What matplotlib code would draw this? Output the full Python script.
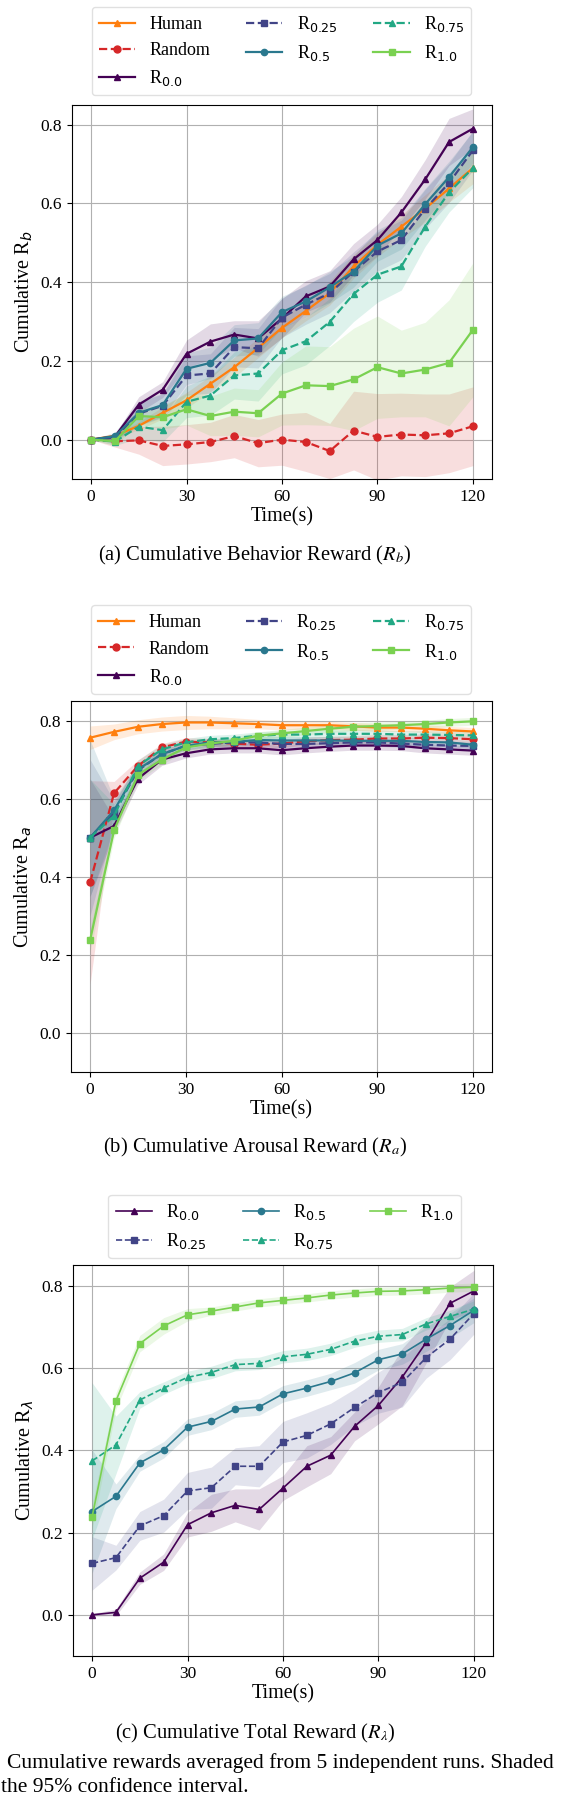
import numpy as np
import matplotlib
matplotlib.use('Agg')
import matplotlib.pyplot as plt

plt.rcParams['font.family'] = ['Liberation Serif', 'DejaVu Serif']
plt.rcParams['mathtext.fontset'] = 'dejavusans'

time_s = [0, 7.5, 15, 22.5, 30, 37.5, 45, 52.5, 60, 67.5, 75, 82.5, 90, 97.5, 105, 112.5, 120]
series_names = ['Human', 'Random', 'R$_{0.0}$', 'R$_{0.25}$', 'R$_{0.5}$', 'R$_{0.75}$', 'R$_{1.0}$']

# (a) behaviour reward: means and 95% CI half widths
human_b = [0.0, 0.01, 0.035, 0.068, 0.10, 0.142, 0.184, 0.233, 0.284, 0.327, 0.372, 0.44, 0.495, 0.541, 0.587, 0.638, 0.69]
random_b = [0.0, -0.004, -0.002, -0.016, -0.012, -0.006, 0.009, -0.009, 0.0, -0.006, -0.029, 0.023, 0.007, 0.013, 0.011, 0.016, 0.034]
r00_b = [0.0, 0.008, 0.089, 0.127, 0.218, 0.249, 0.267, 0.257, 0.308, 0.364, 0.389, 0.458, 0.507, 0.577, 0.661, 0.756, 0.79]
r025_b = [0.0, 0.005, 0.066, 0.086, 0.163, 0.168, 0.235, 0.232, 0.31, 0.343, 0.372, 0.427, 0.478, 0.507, 0.586, 0.652, 0.735]
r05_b = [0.0, 0.009, 0.068, 0.088, 0.18, 0.195, 0.252, 0.257, 0.324, 0.351, 0.387, 0.427, 0.493, 0.524, 0.598, 0.667, 0.743]
r075_b = [0.0, -0.005, 0.033, 0.024, 0.096, 0.112, 0.163, 0.168, 0.227, 0.25, 0.299, 0.37, 0.419, 0.44, 0.541, 0.628, 0.69]
r10_b = [0.0, -0.004, 0.06, 0.057, 0.077, 0.06, 0.071, 0.067, 0.117, 0.138, 0.136, 0.153, 0.184, 0.168, 0.178, 0.195, 0.279]

human_b_ci = [0.0, 0.005, 0.01, 0.015, 0.02, 0.02, 0.025, 0.025, 0.025, 0.025, 0.03, 0.03, 0.03, 0.03, 0.035, 0.035, 0.04]
random_b_ci = [0.0, 0.015, 0.035, 0.05, 0.05, 0.05, 0.055, 0.06, 0.065, 0.075, 0.07, 0.1, 0.11, 0.105, 0.105, 0.1, 0.1]
r00_b_ci = [0.0, 0.005, 0.02, 0.02, 0.035, 0.045, 0.035, 0.045, 0.05, 0.04, 0.04, 0.04, 0.04, 0.04, 0.05, 0.06, 0.05]
r025_b_ci = [0.0, 0.01, 0.03, 0.03, 0.05, 0.05, 0.05, 0.05, 0.05, 0.05, 0.05, 0.05, 0.05, 0.05, 0.05, 0.05, 0.05]
r05_b_ci = [0.0, 0.01, 0.03, 0.03, 0.04, 0.04, 0.04, 0.04, 0.04, 0.04, 0.04, 0.04, 0.04, 0.04, 0.04, 0.04, 0.04]
r075_b_ci = [0.0, 0.01, 0.03, 0.03, 0.04, 0.05, 0.06, 0.07, 0.06, 0.06, 0.06, 0.07, 0.07, 0.06, 0.05, 0.05, 0.05]
r10_b_ci = [0.0, 0.01, 0.02, 0.03, 0.04, 0.05, 0.06, 0.06, 0.08, 0.1, 0.1, 0.13, 0.13, 0.11, 0.12, 0.16, 0.17]

# (b) arousal reward
human_a = [0.756, 0.771, 0.784, 0.791, 0.795, 0.795, 0.793, 0.791, 0.788, 0.788, 0.788, 0.785, 0.782, 0.782, 0.779, 0.775, 0.772]
random_a = [0.386, 0.614, 0.684, 0.731, 0.746, 0.744, 0.741, 0.738, 0.741, 0.747, 0.75, 0.751, 0.754, 0.754, 0.756, 0.755, 0.752]
r00_a = [0.5, 0.53, 0.651, 0.7, 0.716, 0.726, 0.729, 0.729, 0.724, 0.729, 0.733, 0.736, 0.736, 0.735, 0.729, 0.726, 0.723]
r025_a = [0.5, 0.564, 0.673, 0.714, 0.735, 0.74, 0.744, 0.744, 0.74, 0.74, 0.742, 0.744, 0.744, 0.741, 0.738, 0.736, 0.735]
r05_a = [0.5, 0.57, 0.675, 0.714, 0.735, 0.744, 0.745, 0.75, 0.749, 0.749, 0.749, 0.748, 0.748, 0.748, 0.745, 0.744, 0.738]
r075_a = [0.5, 0.556, 0.684, 0.726, 0.744, 0.752, 0.755, 0.761, 0.764, 0.764, 0.766, 0.766, 0.766, 0.764, 0.764, 0.763, 0.762]
r10_a = [0.238, 0.519, 0.661, 0.70, 0.731, 0.741, 0.748, 0.761, 0.767, 0.773, 0.779, 0.784, 0.786, 0.788, 0.791, 0.795, 0.798]

human_a_ci = [0.03, 0.02, 0.018, 0.018, 0.018, 0.016, 0.014, 0.012, 0.012, 0.01, 0.01, 0.01, 0.01, 0.01, 0.01, 0.01, 0.01]
random_a_ci = [0.26, 0.03, 0.015, 0.01, 0.01, 0.01, 0.01, 0.01, 0.01, 0.01, 0.01, 0.01, 0.01, 0.01, 0.01, 0.01, 0.01]
r00_a_ci = [0.15, 0.02, 0.015, 0.015, 0.012, 0.012, 0.012, 0.012, 0.012, 0.012, 0.012, 0.012, 0.012, 0.012, 0.012, 0.012, 0.012]
r025_a_ci = [0.2, 0.03, 0.015, 0.012, 0.01, 0.01, 0.01, 0.01, 0.01, 0.01, 0.01, 0.01, 0.01, 0.01, 0.01, 0.01, 0.01]
r05_a_ci = [0.25, 0.03, 0.015, 0.012, 0.01, 0.01, 0.01, 0.01, 0.01, 0.01, 0.01, 0.01, 0.01, 0.01, 0.01, 0.01, 0.01]
r075_a_ci = [0.15, 0.03, 0.015, 0.012, 0.01, 0.01, 0.01, 0.01, 0.01, 0.01, 0.01, 0.01, 0.01, 0.01, 0.01, 0.01, 0.01]
r10_a_ci = [0.03, 0.02, 0.015, 0.012, 0.01, 0.01, 0.01, 0.01, 0.01, 0.01, 0.01, 0.01, 0.01, 0.01, 0.01, 0.01, 0.01]

# (c) total reward
r00_l = [0.0, 0.006, 0.089, 0.128, 0.219, 0.248, 0.266, 0.256, 0.308, 0.361, 0.388, 0.458, 0.509, 0.578, 0.662, 0.757, 0.787]
r025_l = [0.125, 0.139, 0.216, 0.241, 0.301, 0.309, 0.361, 0.361, 0.42, 0.436, 0.464, 0.504, 0.54, 0.565, 0.625, 0.67, 0.732]
r05_l = [0.251, 0.288, 0.369, 0.401, 0.456, 0.47, 0.5, 0.505, 0.537, 0.551, 0.567, 0.588, 0.62, 0.634, 0.67, 0.703, 0.74]
r075_l = [0.374, 0.413, 0.522, 0.551, 0.577, 0.589, 0.608, 0.611, 0.627, 0.633, 0.645, 0.665, 0.677, 0.681, 0.707, 0.725, 0.743]
r10_l = [0.238, 0.52, 0.659, 0.702, 0.729, 0.738, 0.748, 0.758, 0.764, 0.77, 0.777, 0.782, 0.786, 0.787, 0.79, 0.794, 0.796]

r00_l_ci = [0.003, 0.008, 0.015, 0.02, 0.03, 0.045, 0.04, 0.05, 0.03, 0.05, 0.045, 0.035, 0.045, 0.07, 0.05, 0.04, 0.05]
r025_l_ci = [0.065, 0.03, 0.035, 0.04, 0.045, 0.05, 0.045, 0.05, 0.05, 0.055, 0.05, 0.045, 0.05, 0.06, 0.05, 0.05, 0.05]
r05_l_ci = [0.15, 0.03, 0.02, 0.02, 0.02, 0.02, 0.02, 0.02, 0.02, 0.02, 0.02, 0.025, 0.025, 0.025, 0.03, 0.03, 0.03]
r075_l_ci = [0.19, 0.07, 0.02, 0.015, 0.015, 0.015, 0.015, 0.015, 0.015, 0.015, 0.015, 0.015, 0.015, 0.015, 0.015, 0.015, 0.02]
r10_l_ci = [0.03, 0.02, 0.02, 0.02, 0.015, 0.01, 0.01, 0.01, 0.01, 0.01, 0.01, 0.01, 0.01, 0.01, 0.01, 0.01, 0.01]

vir = plt.cm.viridis
styles = {
    'Human': dict(color='#ff7f0e', marker='^', ls='-', ms=4),
    'Random': dict(color='#d62728', marker='o', ls='--', ms=5),
    'R$_{0.0}$': dict(color=vir(0.0), marker='^', ls='-', ms=4),
    'R$_{0.25}$': dict(color=vir(0.2), marker='s', ls='--', ms=4),
    'R$_{0.5}$': dict(color=vir(0.4), marker='o', ls='-', ms=4.5),
    'R$_{0.75}$': dict(color=vir(0.6), marker='^', ls='--', ms=4),
    'R$_{1.0}$': dict(color=vir(0.8), marker='s', ls='-', ms=4.5),
}

W, H = 578, 1804
fig = plt.figure(figsize=(W / 100, H / 100), dpi=100)


def px_axes(left, top, right, bottom):
    return fig.add_axes([left / W, 1 - bottom / H, (right - left) / W, (bottom - top) / H])


def draw_panel(ax, names, means, cis, ylabel, lw):
    handles = []
    for name, m, c in zip(names, means, cis):
        st = styles[name]
        m = np.array(m)
        c = np.array(c)
        ax.fill_between(time_s, m - c, m + c, color=st['color'], alpha=0.15, lw=0)
        h, = ax.plot(time_s, m, color=st['color'], marker=st['marker'], ls=st['ls'],
                     ms=st['ms'], lw=lw, label=name)
        handles.append(h)
    ax.set_xlim(-6, 126)
    ax.set_ylim(-0.1, 0.85)
    ax.set_xticks([0, 30, 60, 90, 120])
    ax.set_yticks([0.0, 0.2, 0.4, 0.6, 0.8])
    ax.set_yticklabels(['0.0', '0.2', '0.4', '0.6', '0.8'])
    ax.tick_params(labelsize=12.5)
    ax.grid(True, color='#b0b0b0', lw=0.8)
    ax.set_axisbelow(True)
    ax.set_xlabel('Time(s)', fontsize=14.5, labelpad=2)
    ax.set_ylabel(ylabel, fontsize=14.5)
    return handles


def add_legend(handles, cx, cy):
    fig.legend(handles=handles, loc='center', bbox_to_anchor=(cx / W, 1 - cy / H), ncol=3,
               fontsize=13, frameon=True, fancybox=True, edgecolor='0.85', framealpha=0.8)


# (a)
ax1 = px_axes(72, 105, 492, 479)
h1 = draw_panel(ax1, series_names,
                [human_b, random_b, r00_b, r025_b, r05_b, r075_b, r10_b],
                [human_b_ci, random_b_ci, r00_b_ci, r025_b_ci, r05_b_ci, r075_b_ci, r10_b_ci],
                'Cumulative R$_b$', 1.6)
add_legend(h1, 281.5, 51)
fig.text(255 / W, 1 - 555 / H, r'(a) Cumulative Behavior Reward ($R_b$)', ha='center', va='center',
         fontsize=14.8, math_fontfamily='stix')

# (b)
ax2 = px_axes(71, 701, 492, 1072)
h2 = draw_panel(ax2, series_names,
                [human_a, random_a, r00_a, r025_a, r05_a, r075_a, r10_a],
                [human_a_ci, random_a_ci, r00_a_ci, r025_a_ci, r05_a_ci, r075_a_ci, r10_a_ci],
                'Cumulative R$_a$', 1.6)
add_legend(h2, 281, 649.5)
fig.text(255 / W, 1 - 1147 / H, r'(b) Cumulative Arousal Reward ($R_a$)', ha='center', va='center',
         fontsize=14.8, math_fontfamily='stix')

# (c)
ax3 = px_axes(73, 1265, 493, 1656)
h3 = draw_panel(ax3, series_names[2:],
                [r00_l, r025_l, r05_l, r075_l, r10_l],
                [r00_l_ci, r025_l_ci, r05_l_ci, r075_l_ci, r10_l_ci],
                r'Cumulative R$_\lambda$', 1.2)
add_legend(h3, 284.5, 1226.5)
fig.text(255 / W, 1 - 1733 / H, r'(c) Cumulative Total Reward ($R_\lambda$)', ha='center', va='center',
         fontsize=14.8, math_fontfamily='stix')

fig.text(7 / W, 1 - 1763 / H, 'Cumulative rewards averaged from 5 independent runs. Shaded',
         ha='left', va='center', fontsize=15.5)
fig.text(1 / W, 1 - 1787 / H, 'the 95% confidence interval.', ha='left', va='center', fontsize=15.5)

fig.savefig('out.png', dpi=100)
